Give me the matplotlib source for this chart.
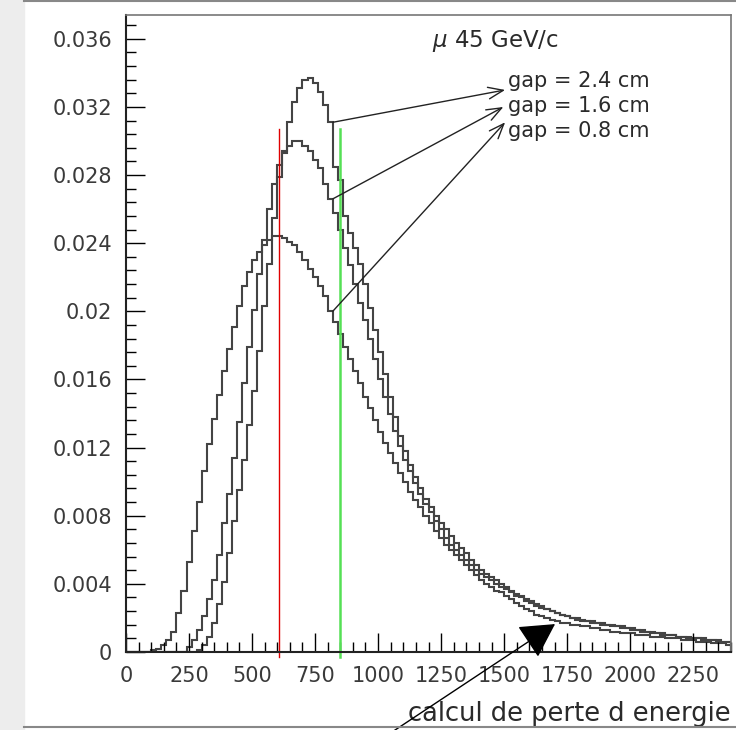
import matplotlib.pyplot as plt
import numpy as np
from matplotlib.ticker import MultipleLocator, FuncFormatter
from matplotlib.patches import Rectangle
from matplotlib.lines import Line2D

# bin edges of the energy-loss histograms (20 units per bin)
edges = np.arange(0, 2401, 20)

# normalised counts per bin
gap_24 = [0, 0, 0, 0, 0, 0, 0, 0, 0, 0,
          0, 0, 0, 0, 0.0001, 0.0004, 0.0009, 0.0017, 0.0028, 0.0041,
          0.0058, 0.0077, 0.0095, 0.0113, 0.0133, 0.0153, 0.0177, 0.0203, 0.0228, 0.0255,
          0.0279, 0.0294, 0.0311, 0.0323, 0.0331, 0.0336, 0.0337, 0.0334, 0.0329, 0.0321,
          0.0311, 0.0285, 0.0277, 0.0256, 0.0246, 0.0237, 0.0228, 0.0216, 0.0202, 0.0189,
          0.0176, 0.0163, 0.0150, 0.0138, 0.0127, 0.0118, 0.0110, 0.0103, 0.0096, 0.0090,
          0.0085, 0.0080, 0.0076, 0.0072, 0.0068, 0.0064, 0.0061, 0.0058, 0.0054, 0.0051,
          0.0048, 0.0046, 0.0044, 0.0042, 0.0040, 0.0038, 0.0036, 0.0034, 0.0033, 0.0031,
          0.0030, 0.0028, 0.0027, 0.0025, 0.0024, 0.0023, 0.0022, 0.0021, 0.0020, 0.0020,
          0.0019, 0.0018, 0.0018, 0.0017, 0.0017, 0.0016, 0.0016, 0.0015, 0.0015, 0.0014,
          0.0014, 0.0013, 0.0013, 0.0012, 0.0012, 0.0011, 0.0011, 0.0010, 0.0010, 0.0009,
          0.0009, 0.0009, 0.0008, 0.0008, 0.0008, 0.0007, 0.0007, 0.0007, 0.0006, 0.0006]

gap_16 = [0, 0, 0, 0, 0, 0, 0, 0, 0, 0,
          0, 0, 0.0003, 0.0007, 0.0013, 0.0021, 0.0031, 0.0042, 0.0057, 0.0076,
          0.0093, 0.0114, 0.0135, 0.0158, 0.0179, 0.0201, 0.0222, 0.0242, 0.0260, 0.0275,
          0.0286, 0.0293, 0.0297, 0.0300, 0.0300, 0.0297, 0.0294, 0.0289, 0.0284, 0.0275,
          0.0266, 0.0258, 0.0248, 0.0237, 0.0227, 0.0216, 0.0205, 0.0195, 0.0184, 0.0172,
          0.0160, 0.0150, 0.0140, 0.0130, 0.0121, 0.0113, 0.0106, 0.0099, 0.0093, 0.0087,
          0.0082, 0.0077, 0.0072, 0.0067, 0.0063, 0.0060, 0.0057, 0.0054, 0.0051, 0.0048,
          0.0046, 0.0044, 0.0042, 0.0040, 0.0038, 0.0037, 0.0035, 0.0033, 0.0032, 0.0030,
          0.0029, 0.0027, 0.0026, 0.0025, 0.0024, 0.0023, 0.0022, 0.0021, 0.0020, 0.0019,
          0.0018, 0.0018, 0.0017, 0.0017, 0.0016, 0.0016, 0.0015, 0.0015, 0.0014, 0.0014,
          0.0013, 0.0013, 0.0012, 0.0012, 0.0011, 0.0011, 0.0010, 0.0010, 0.0010, 0.0009,
          0.0009, 0.0008, 0.0008, 0.0008, 0.0007, 0.0007, 0.0007, 0.0006, 0.0006, 0.0006]

gap_08 = [0, 0, 0, 0, 0, 0.0001, 0.0002, 0.0004, 0.0007, 0.0012,
          0.0023, 0.0036, 0.0053, 0.0071, 0.0088, 0.0106, 0.0122, 0.0137, 0.0151, 0.0165,
          0.0178, 0.0191, 0.0203, 0.0215, 0.0223, 0.0230, 0.0235, 0.0239, 0.0242, 0.0244,
          0.0244, 0.0243, 0.0241, 0.0239, 0.0235, 0.0230, 0.0225, 0.0220, 0.0215, 0.0209,
          0.0200, 0.0194, 0.0187, 0.0179, 0.0172, 0.0165, 0.0158, 0.0150, 0.0143, 0.0136,
          0.0129, 0.0123, 0.0117, 0.0111, 0.0105, 0.0100, 0.0094, 0.0089, 0.0085, 0.0080,
          0.0076, 0.0071, 0.0067, 0.0063, 0.0060, 0.0057, 0.0054, 0.0051, 0.0048, 0.0045,
          0.0042, 0.0040, 0.0038, 0.0036, 0.0035, 0.0033, 0.0031, 0.0029, 0.0027, 0.0025,
          0.0024, 0.0022, 0.0021, 0.0020, 0.0019, 0.0018, 0.0017, 0.0017, 0.0016, 0.0016,
          0.0015, 0.0015, 0.0014, 0.0014, 0.0013, 0.0013, 0.0012, 0.0012, 0.0011, 0.0011,
          0.0011, 0.0010, 0.0010, 0.0010, 0.0009, 0.0009, 0.0009, 0.0008, 0.0008, 0.0008,
          0.0007, 0.0007, 0.0007, 0.0006, 0.0006, 0.0006, 0.0005, 0.0005, 0.0005, 0.0004]

labels = ["gap = 2.4 cm", "gap = 1.6 cm", "gap = 0.8 cm"]
title = r"$\mu$ 45 GeV/c"
xlabel = "calcul de perte d energie"

# the two vertical marker lines
red_x = 605
green_x = 850
marker_top = 0.0307

fig = plt.figure(figsize=(7.36, 7.30), dpi=100)
fig.add_artist(Rectangle((0, 0), 24 / 736, 1, transform=fig.transFigure,
                         color="#ededed", zorder=-5))
fig.add_artist(Line2D([24 / 736, 1], [0.998, 0.998], color="#888888", lw=1.5))
fig.add_artist(Line2D([24 / 736, 1], [0.004, 0.004], color="#888888", lw=1.5))

ax = fig.add_axes([126 / 736, 1 - 652 / 730, 605 / 736, 637 / 730])

series = [gap_24, gap_16, gap_08]
for vals in series:
    ax.stairs(vals, edges, color="#444444", lw=1.5)

ax.plot([red_x, red_x], [-0.0003, marker_top], color="#e00000", lw=1, clip_on=False)
ax.plot([green_x, green_x], [-0.0003, marker_top], color="#55e055", lw=1.8, clip_on=False)

ax.set_xlim(0, 2400)
ax.set_ylim(0, 0.0374)
ax.set_xticks(np.arange(0, 2251, 250))
ax.xaxis.set_minor_locator(MultipleLocator(50))
ax.set_yticks(np.arange(0, 0.0361, 0.004))
ax.yaxis.set_minor_locator(MultipleLocator(0.0008))
ax.yaxis.set_major_formatter(FuncFormatter(lambda v, p: "%g" % round(v, 4)))
ax.tick_params(which="both", direction="in", top=False, right=False,
               labelsize=15, labelcolor="#3a3a3a", width=1)
ax.tick_params(which="major", length=14, pad=10)
ax.tick_params(which="minor", length=7.5)

for s in ["left", "bottom"]:
    ax.spines[s].set_linewidth(1.5)
    ax.spines[s].set_color("#222222")
for s in ["top", "right"]:
    ax.spines[s].set_linewidth(1.2)
    ax.spines[s].set_color("#777777")

ax.text(0.506, 0.959, title, transform=ax.transAxes, fontsize=16.5,
        va="center", color="#2a2a2a")

# labels with arrows coming from the curves
tips = [(1504, 0.0330), (1497, 0.0320), (1504, 0.0311)]
label_y = [0.8865, 0.847, 0.809]
for vals, lab, tip, ly in zip(series, labels, tips, label_y):
    ax.text(0.631, ly, lab, transform=ax.transAxes, fontsize=15,
            va="baseline", color="#2a2a2a")
    ax.annotate("", xy=tip, xytext=(edges[41], vals[40]),
                arrowprops=dict(arrowstyle="->,head_length=0.9,head_width=0.35",
                                mutation_scale=12, lw=1, color="#222222",
                                shrinkA=0, shrinkB=0))

# big black arrow at the bottom
ax.annotate("", xy=(1702, 0.00164), xytext=(380, -10), textcoords="figure pixels",
            arrowprops=dict(arrowstyle="-|>,head_length=0.4,head_width=0.22",
                            mutation_scale=54, lw=1, color="black",
                            shrinkA=0, shrinkB=0),
            annotation_clip=False)

ax.set_xlabel(xlabel, fontsize=18.5, loc="right", labelpad=11, color="#2a2a2a")

fig.savefig("out.png", dpi=100)
